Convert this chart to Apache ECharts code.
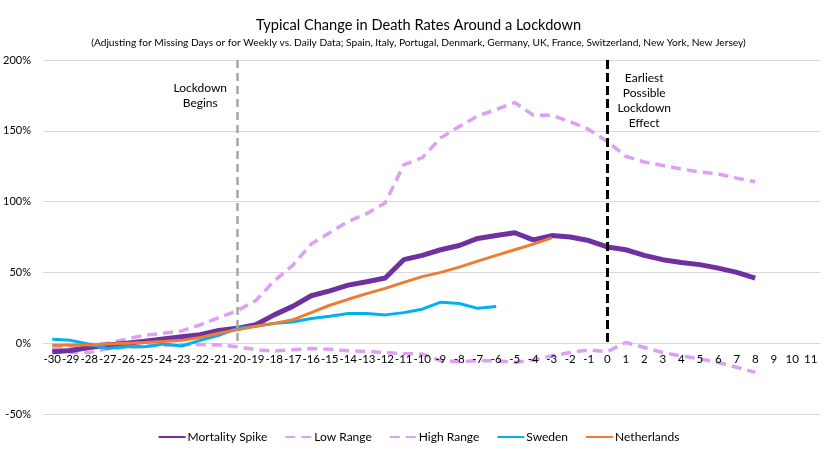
<!DOCTYPE html>
<html>
<head>
<meta charset="utf-8">
<script src="https://cdn.jsdelivr.net/npm/echarts@6/dist/echarts.min.js"></script>
<style>html,body{margin:0;padding:0;background:#fff}#c{width:837px;height:455px}</style>
</head>
<body>
<div id="c"></div>
<script>
var categories = [-30,-29,-28,-27,-26,-25,-24,-23,-22,-21,-20,-19,-18,-17,-16,-15,-14,-13,-12,-11,-10,-9,-8,-7,-6,-5,-4,-3,-2,-1,0,1,2,3,4,5,6,7,8,9,10,11];
var mortalitySpike = [-6,-5.2,-3,-1.3,0,1.4,3,4.5,6,9,10.5,13,20,26,33.5,37,41,43.4,46,59,62,66,69,74,76,78,73,76,75,72.5,68,66,62,59,57,55.5,53,50,46,null,null,null];
var lowRange = [-6,-6.5,-6.5,-4,-3,-2,-1.5,-1,-1,-1.2,-2.5,-4.5,-5.6,-4.7,-3.8,-4.2,-5.4,-5.9,-6.6,-7.3,-7.7,-12.4,-13,-12.4,-12.4,-13.6,-12,-9,-6.6,-4.7,-6,0.5,-3,-6.6,-9,-11,-13.6,-17,-20.6,null,null,null];
var highRange = [-3,-2,-1,0,3,5.6,7,8.7,13,18,23,30,44,55,70,78,86,91.5,99,126,131,145,153,160.5,165,170,161,161,156.5,151,142.5,132,128,125.5,123,121,119.5,116.6,114,null,null,null];
var sweden = [2.8,2,-0.7,-3.8,-2.3,-2.5,-0.5,-2,2,5.6,10.5,12,14,15,17.5,19,21,21,20,21.6,24,29,28,24.6,26,null,null,null,null,null,null,null,null,null,null,null,null,null,null,null,null,null];
var netherlands = [-1.4,-1.3,-1.2,-0.5,0,0.5,1.2,2,4,7,9.4,12,14,16.5,21.6,26.8,31,35,38.7,43,47,50,53.7,58,62,66,70,74.4,null,null,null,null,null,null,null,null,null,null,null,null,null,null];
var yTicks = {min:-50, max:200, interval:50};
var lockdownIdx = categories.indexOf(-20);
var effectIdx = categories.indexOf(0);

var FONT = 'Lato';
var H = 455, TOP = 60, BOTTOM = 41;
var gridH = H - TOP - BOTTOM;
var zeroOffset = -gridH * (0 - yTicks.min) / (yTicks.max - yTicks.min);
var chart = echarts.init(document.getElementById('c'), null, {renderer:'canvas'});
var lav = '#DDA0F2';
chart.setOption({
  animation:false,
  textStyle:{fontFamily:FONT},
  title:[{
    text:'Typical Change in Death Rates Around a Lockdown',
    left:'center', top:13,
    textStyle:{fontFamily:FONT, fontSize:14.6, fontWeight:'normal', color:'#000'}
  },{
    text:'(Adjusting for Missing Days or for Weekly vs. Daily Data; Spain, Italy, Portugal, Denmark, Germany, UK, France, Switzerland, New York, New Jersey)',
    left:'center', top:33,
    textStyle:{fontFamily:FONT, fontSize:10.2, fontWeight:'normal', color:'#000'}
  }],
  grid:{left:40, right:17, top:TOP, bottom:BOTTOM, containLabel:false},
  legend:{
    bottom:7, left:'center', itemWidth:27, itemHeight:10, itemGap:17,
    itemStyle:{opacity:0},
    textStyle:{fontFamily:FONT, fontSize:12, color:'#000', padding:[0,0,0,-3]},
    data:['Mortality Spike','Low Range','High Range','Sweden','Netherlands']
  },
  xAxis:{
    type:'category', data:categories, boundaryGap:true, offset:zeroOffset, z:10,
    axisLine:{show:false, onZero:false},
    axisTick:{show:false},
    axisLabel:{interval:0, color:'#000', fontFamily:FONT, fontSize:11.5, margin:10}
  },
  yAxis:{
    type:'value', min:yTicks.min, max:yTicks.max, interval:yTicks.interval,
    axisLine:{show:false}, axisTick:{show:false},
    axisLabel:{formatter:'{value}%', color:'#000', fontFamily:FONT, fontSize:11, margin:12},
    splitLine:{lineStyle:{color:'#D9D9D9', width:1}}
  },
  series:[
    {name:'Mortality Spike', type:'line', data:mortalitySpike, symbol:'none', z:3,
     lineStyle:{color:'#7030A0', width:5}, itemStyle:{color:'#7030A0'},
     markLine:{silent:true, symbol:'none', z:10,
       label:{show:false},
       data:[
         [{coord:[lockdownIdx,200], lineStyle:{color:'#A6A6A6', width:2.5, type:[8,5]}},{coord:[lockdownIdx,0]}],
         [{coord:[effectIdx,200], lineStyle:{color:'#000', width:3, type:[9,4]}},{coord:[effectIdx,0]}]
       ]},
     markPoint:{silent:true, symbol:'circle', symbolSize:0,
       label:{show:true, color:'#000', fontFamily:FONT, fontSize:12, lineHeight:15, align:'center', verticalAlign:'middle'},
       data:[
         {coord:[lockdownIdx-2.1, 174.5], label:{formatter:'Lockdown\nBegins'}},
         {coord:[effectIdx+1.9, 171.4], label:{formatter:'Earliest\nPossible\nLockdown\nEffect'}}
       ]}
    },
    {name:'Low Range', type:'line', data:lowRange, symbol:'none', z:2,
     lineStyle:{color:lav, width:3.5, type:[10,6]}, itemStyle:{color:lav}},
    {name:'High Range', type:'line', data:highRange, symbol:'none', z:2,
     lineStyle:{color:lav, width:3.5, type:[10,6]}, itemStyle:{color:lav}},
    {name:'Sweden', type:'line', data:sweden, symbol:'none', z:4,
     lineStyle:{color:'#00B0F0', width:3}, itemStyle:{color:'#00B0F0'}},
    {name:'Netherlands', type:'line', data:netherlands, symbol:'none', z:5,
     lineStyle:{color:'#ED7D31', width:3}, itemStyle:{color:'#ED7D31'}}
  ]
});
</script>
</body>
</html>
